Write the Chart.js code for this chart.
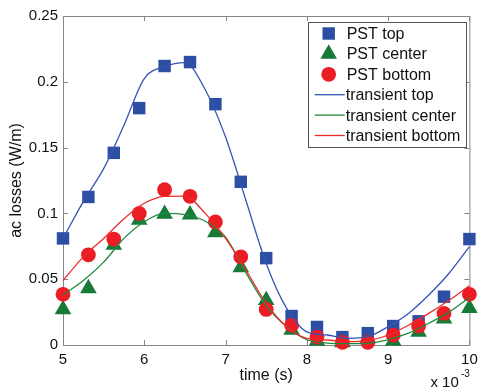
<!DOCTYPE html>
<html>
<head>
<meta charset="utf-8">
<script src="https://cdn.jsdelivr.net/npm/chart.js@4/dist/chart.umd.min.js"></script>
<style>
  html, body { margin: 0; padding: 0; background: #fff; }
  #wrap { width: 479px; height: 388px; }
</style>
</head>
<body>
<div id="wrap"><canvas id="chart" width="479" height="388"></canvas></div>
<script>
// time axis in ms (label shows x 10^-3)
const pstTime = [5, 5.3125, 5.625, 5.9375, 6.25, 6.5625, 6.875, 7.1875, 7.5, 7.8125, 8.125, 8.4375, 8.75, 9.0625, 9.375, 9.6875, 10];
const pstTop = [0.081, 0.1125, 0.146, 0.180, 0.212, 0.215, 0.183, 0.124, 0.066, 0.022, 0.0137, 0.006, 0.009, 0.0144, 0.018, 0.0367, 0.0805];
const pstCenter = [0.027, 0.043, 0.076, 0.095, 0.0995, 0.099, 0.0855, 0.059, 0.034, 0.0115, 0.003, 0.002, 0.005, 0.003, 0.01, 0.02, 0.028];
const pstBottom = [0.0385, 0.0685, 0.0805, 0.100, 0.118, 0.113, 0.0935, 0.067, 0.027, 0.015, 0.006, 0.002, 0.002, 0.0075, 0.0145, 0.024, 0.0385];

const transTime = [5, 5.25, 5.5, 5.75, 6, 6.25, 6.5, 6.75, 7, 7.25, 7.5, 7.75, 8, 8.25, 8.5, 8.75, 9, 9.25, 9.5, 9.75, 10];
const transTop = [0.081, 0.109, 0.134, 0.167, 0.2025, 0.2115, 0.2145, 0.194, 0.158, 0.110, 0.062, 0.028, 0.010, 0.0076, 0.005, 0.0063, 0.0139, 0.024, 0.038, 0.0545, 0.0747];
const transCenter = [0.038, 0.049, 0.063, 0.081, 0.0937, 0.100, 0.099, 0.094, 0.082, 0.055, 0.030, 0.014, 0.004, 0.0015, 0.001, 0.0013, 0.004, 0.009, 0.0165, 0.025, 0.036];
const transBottom = [0.049, 0.067, 0.081, 0.096, 0.1077, 0.113, 0.1132, 0.100, 0.081, 0.057, 0.0317, 0.014, 0.005, 0.0038, 0.0025, 0.0033, 0.0076, 0.015, 0.024, 0.034, 0.045];

const xTicks = [5, 6, 7, 8, 9, 10];
const xTickLabels = ['5', '6', '7', '8', '9', '10'];
const yTicks = [0, 0.05, 0.1, 0.15, 0.2, 0.25];
const yTickLabels = ['0', '0.05', '0.1', '0.15', '0.2', '0.25'];

const FONT = "'Liberation Sans', Arial, Helvetica, sans-serif";
Chart.defaults.font.family = FONT;
Chart.defaults.color = '#111';

const toXY = (xs, ys) => xs.map((x, i) => ({ x: x, y: ys[i] }));

function markerSet(label, ys, style, radius, color, order) {
    return {
        label: label,
        data: toXY(pstTime, ys),
        showLine: false,
        pointStyle: style,
        pointRadius: radius,
        pointHoverRadius: radius,
        pointBackgroundColor: color,
        pointBorderWidth: 0,
        backgroundColor: color,
        borderColor: color,
        clip: false,
        order: order
    };
}

function lineSet(label, ys, color, order) {
    return {
        label: label,
        data: toXY(transTime, ys),
        borderColor: color,
        backgroundColor: color,
        borderWidth: 1.3,
        pointRadius: 0,
        cubicInterpolationMode: 'monotone',
        fill: false,
        clip: false,
        order: order
    };
}

// box, inward ticks on all four sides
const framePlugin = {
    id: 'frame',
    beforeDatasetsDraw(chart) {
        const { ctx, chartArea: a, scales } = chart;
        ctx.save();
        ctx.strokeStyle = '#858585';
        ctx.lineWidth = 1;
        ctx.strokeRect(a.left + 0.5, a.top + 0.5, a.right - a.left, a.bottom - a.top);
        const t = 5;
        ctx.beginPath();
        xTicks.forEach(v => {
            const px = Math.round(scales.x.getPixelForValue(v)) + 0.5;
            ctx.moveTo(px, a.bottom); ctx.lineTo(px, a.bottom - t);
            ctx.moveTo(px, a.top); ctx.lineTo(px, a.top + t);
        });
        yTicks.forEach(v => {
            const py = Math.round(scales.y.getPixelForValue(v)) + 0.5;
            ctx.moveTo(a.left, py); ctx.lineTo(a.left + t, py);
            ctx.moveTo(a.right, py); ctx.lineTo(a.right - t, py);
        });
        ctx.stroke();
        ctx.restore();
    }
};

// MATLAB-like legend box in the upper right corner + exponent label
const boxLegend = {
    id: 'boxLegend',
    afterDraw(chart) {
        const { ctx, chartArea: a } = chart;
        const w = 158, h = 125;
        const left = a.right - 3.7 - w, top = a.top + 6;
        ctx.save();
        ctx.fillStyle = '#fff';
        ctx.fillRect(left, top, w, h);
        ctx.strokeStyle = '#555';
        ctx.lineWidth = 1;
        ctx.strokeRect(Math.round(left) + 0.5, Math.round(top) + 0.5, w, h);
        ctx.font = '16px ' + FONT;
        ctx.textBaseline = 'middle';
        chart.data.datasets.forEach((ds, i) => {
            const y = top + 11.5 + i * 20.4;
            if (ds.showLine === false) {
                ctx.fillStyle = ds.pointBackgroundColor;
                Chart.helpers.drawPoint(ctx, { pointStyle: ds.pointStyle, radius: ds.pointRadius, borderWidth: 0, rotation: 0 }, left + 21, y);
                ctx.fillStyle = '#111';
                ctx.fillText(ds.label, left + 39, y + 1);
            } else {
                ctx.strokeStyle = ds.borderColor;
                ctx.lineWidth = 1.3;
                ctx.beginPath();
                ctx.moveTo(left + 7, y);
                ctx.lineTo(left + 37, y);
                ctx.stroke();
                ctx.fillStyle = '#111';
                ctx.fillText(ds.label, left + 38, y + 1);
            }
        });
        // x 10^-3
        ctx.textBaseline = 'alphabetic';
        ctx.font = '15px ' + FONT;
        ctx.fillText('x 10', a.right - 39, 387);
        ctx.font = '10px ' + FONT;
        ctx.fillText('-3', a.right - 8.5, 376.5);
        ctx.restore();
    }
};

new Chart(document.getElementById('chart'), {
    type: 'line',
    data: {
        datasets: [
            markerSet('PST top', pstTop, 'rect', 8.8, '#2c4ea3', 5),
            markerSet('PST center', pstCenter, 'triangle', 9.6, '#177a38', 6),
            markerSet('PST bottom', pstBottom, 'circle', 7.4, '#ec1c24', 4),
            lineSet('transient top', transTop, '#3555b3', 3),
            lineSet('transient center', transCenter, '#1f8a3c', 2),
            lineSet('transient bottom', transBottom, '#ee2a2a', 1)
        ]
    },
    options: {
        responsive: false,
        animation: false,
        layout: { padding: { top: 16, right: 0, left: 0, bottom: 0 } },
        plugins: {
            legend: { display: false },
            tooltip: { enabled: false }
        },
        scales: {
            x: {
                type: 'linear',
                min: 5,
                max: 10,
                afterBuildTicks: s => { s.ticks = xTicks.map(v => ({ value: v })); },
                afterFit: s => { s.height = 43; s.paddingRight = 8.3; },
                grid: { display: false, drawTicks: false },
                border: { display: false },
                ticks: {
                    font: { size: 15 },
                    padding: 6,
                    maxRotation: 0,
                    callback: (v, i) => xTickLabels[i]
                },
                title: { display: true, text: 'time (s)', font: { size: 16 }, padding: { top: 0, bottom: 3 } }
            },
            y: {
                min: 0,
                max: 0.25,
                afterBuildTicks: s => { s.ticks = yTicks.map(v => ({ value: v })); },
                afterFit: s => { s.width = 63; },
                grid: { display: false, drawTicks: false },
                border: { display: false },
                ticks: {
                    font: { size: 15 },
                    padding: 5,
                    callback: (v, i) => yTickLabels[i]
                },
                title: { display: true, text: 'ac losses (W/m)', font: { size: 16 }, padding: { top: 7, bottom: 0 } }
            }
        }
    },
    plugins: [framePlugin, boxLegend]
});
</script>
</body>
</html>
